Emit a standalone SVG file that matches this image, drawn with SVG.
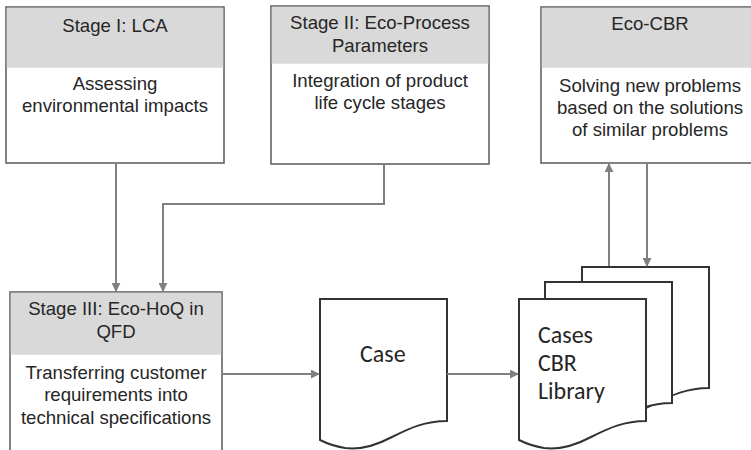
<svg xmlns="http://www.w3.org/2000/svg" width="751" height="450" viewBox="0 0 751 450">
  <style>
    .box { fill: #ffffff; stroke: #595959; stroke-width: 1.5; }
    .head { fill: #d9d9d9; stroke: none; }
    .t { font-family: "Liberation Sans", Arial, sans-serif; font-size: 18.6px; fill: #262626; text-anchor: middle; }
    .doc { fill: #ffffff; stroke: #333333; stroke-width: 2; stroke-linejoin: miter; }
    .dt { font-family: Carlito, Lato, "Open Sans", sans-serif; font-size: 24px; fill: #262626; }
    .wire { fill: none; stroke: #808080; stroke-width: 2; }
  </style>
  <defs>
    <marker id="arr" viewBox="0 0 10 10" refX="9" refY="5" markerWidth="4.5" markerHeight="4.5" orient="auto" markerUnits="strokeWidth">
      <path d="M0,0 L10,5 L0,10 Z" fill="#808080"/>
    </marker>
  </defs>

  <!-- Stage I -->
  <g id="stage1">
    <rect class="box" x="6" y="7" width="218" height="156"/>
    <rect class="head" x="6.75" y="7.75" width="216.5" height="60"/>
    <text class="t" x="115" y="32">Stage I: LCA</text>
    <text class="t" x="115" y="90">Assessing</text>
    <text class="t" x="115" y="112">environmental impacts</text>
  </g>

  <!-- Stage II -->
  <g id="stage2">
    <rect class="box" x="271" y="6" width="218" height="158"/>
    <rect class="head" x="271.75" y="6.75" width="216.5" height="57"/>
    <text class="t" x="380" y="29">Stage II: Eco-Process</text>
    <text class="t" x="380" y="52">Parameters</text>
    <text class="t" x="380" y="87">Integration of product</text>
    <text class="t" x="380" y="109">life cycle stages</text>
  </g>

  <!-- Eco-CBR -->
  <g id="ecocbr">
    <rect class="box" x="541" y="7" width="218" height="156"/>
    <rect class="head" x="541.75" y="7.75" width="216.5" height="60"/>
    <text class="t" x="650" y="30">Eco-CBR</text>
    <text class="t" x="650" y="92">Solving new problems</text>
    <text class="t" x="650" y="114">based on the solutions</text>
    <text class="t" x="650" y="136">of similar problems</text>
  </g>

  <!-- Stage III -->
  <g id="stage3">
    <rect class="box" x="10" y="292" width="212" height="170"/>
    <rect class="head" x="10.75" y="292.75" width="210.5" height="62"/>
    <text class="t" x="116" y="315">Stage III: Eco-HoQ in</text>
    <text class="t" x="116" y="338">QFD</text>
    <text class="t" x="116" y="379">Transferring customer</text>
    <text class="t" x="116" y="401">requirements into</text>
    <text class="t" x="116" y="424">technical specifications</text>
  </g>

  <!-- Case document -->
  <g id="case">
    <path class="doc" d="M320,299 H447 V421 C425,421 410,428 392,437 C375,446 360,450 345,448 C333,446 326,443 320,440 Z"/>
    <text class="dt" x="360" y="362">Case</text>
  </g>

  <!-- Case library (stacked documents) -->
  <g id="library">
    <path class="doc" d="M582,267 H709 V388 C687,388 672,395 654,404 C637,413 622,417 607,415 C595,413 588,410 582,407 Z"/>
    <path class="doc" d="M545,282 H672 V403 C650,403 635,410 617,419 C600,428 585,432 570,430 C558,428 551,425 545,422 Z"/>
    <path class="doc" d="M519,299 H646 V421 C624,421 609,428 591,437 C574,446 559,450 544,448 C532,446 525,443 519,440 Z"/>
    <text class="dt" x="538" y="343">Cases</text>
    <text class="dt" x="538" y="371">CBR</text>
    <text class="dt" x="538" y="399">Library</text>
  </g>

  <!-- Connectors -->
  <g id="connectors">
    <path class="wire" d="M116,163 V291" marker-end="url(#arr)"/>
    <path class="wire" d="M384,164 V204 H163 V291" marker-end="url(#arr)"/>
    <path class="wire" d="M222,374 H319" marker-end="url(#arr)"/>
    <path class="wire" d="M447,374 H518" marker-end="url(#arr)"/>
    <path class="wire" d="M609,266 V164" marker-end="url(#arr)"/>
    <path class="wire" d="M647,163 V266" marker-end="url(#arr)"/>
  </g>
</svg>
